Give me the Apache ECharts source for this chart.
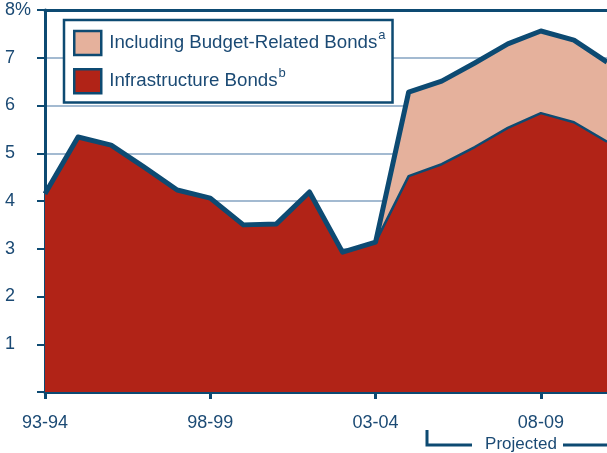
<!DOCTYPE html>
<html>
<head>
<meta charset="utf-8">
<script src="https://cdn.jsdelivr.net/npm/echarts@6/dist/echarts.min.js"></script>
<style>html,body{margin:0;padding:0;background:#fff}#c{width:607px;height:453px}</style>
</head>
<body>
<div id="c"></div>
<script>
var categories = ['93-94','94-95','95-96','96-97','97-98','98-99','99-00','00-01','01-02','02-03','03-04','04-05','05-06','06-07','07-08','08-09','09-10','10-11'];
var infrastructure = [4.15,5.34,5.17,4.71,4.23,4.06,3.50,3.52,4.19,2.93,3.14,4.52,4.77,5.13,5.53,5.84,5.65,5.24];
var budgetRelated = [null,null,null,null,null,null,null,null,null,null,3.14,6.28,6.51,6.89,7.29,7.56,7.37,6.91];
var yTicks = [0,1,2,3,4,5,6,7,8];

var NAVY = '#0d4a72';
var TEXT = '#1b4a74';
var GRID = '#a3bad1';
var RED = '#b12317';
var PINK = '#e5b19c';
var FONT = '"Liberation Sans", Arial, sans-serif';

var combined = budgetRelated.map(function (v, i) { return v == null ? infrastructure[i] : v; });

var chart = echarts.init(document.getElementById('c'), null, {renderer: 'canvas'});
chart.setOption({
  animation: false,
  textStyle: {fontFamily: FONT},
  grid: {left: 45, right: -2, top: 10, bottom: 61, containLabel: false},
  legend: {
    left: 64, top: 20,
    orient: 'vertical',
    data: ['Including Budget-Related Bonds', 'Infrastructure Bonds'],
    backgroundColor: '#fff',
    borderColor: NAVY, borderWidth: 2.5,
    padding: [9, 7, 8, 9],
    itemWidth: 27, itemHeight: 24, itemGap: 11,
    icon: 'rect',
    selectedMode: false,
    itemStyle: {borderColor: NAVY, borderWidth: 2.5},
    formatter: function (name) {
      return name + (name.indexOf('Including') === 0 ? '{sup|a}' : '{sup|b}');
    },
    textStyle: {
      color: TEXT, fontSize: 18.7, fontFamily: FONT, lineHeight: 24, padding: [0, 0, 0, 3],
      rich: {sup: {fontSize: 13, color: TEXT, fontFamily: FONT, lineHeight: 13, verticalAlign: 'bottom', padding: [0, 0, 13, 1]}}
    }
  },
  xAxis: [{
    type: 'category',
    data: categories,
    boundaryGap: false,
    axisLine: {lineStyle: {color: NAVY, width: 3}},
    axisTick: {show: true, interval: 4, length: 7, lineStyle: {color: NAVY, width: 3}},
    axisLabel: {interval: 4, color: TEXT, fontSize: 18, margin: 22, fontFamily: FONT},
    splitLine: {show: false}
  }, {
    type: 'category',
    data: categories,
    position: 'top',
    boundaryGap: false,
    axisLine: {lineStyle: {color: NAVY, width: 3}},
    axisTick: {show: false},
    axisLabel: {show: false}
  }],
  yAxis: {
    type: 'value',
    min: yTicks[0], max: yTicks[yTicks.length - 1], interval: 1,
    axisLine: {show: true, lineStyle: {color: NAVY, width: 3}},
    axisTick: {show: true, length: 8, lineStyle: {color: NAVY, width: 2}},
    axisLabel: {
      color: TEXT, fontSize: 18, align: 'left', margin: 40, fontFamily: FONT,
      formatter: function (v) { return v === 0 ? '' : (v === 8 ? v + '%' : String(v)); }
    },
    splitLine: {show: true, lineStyle: {color: GRID, width: 2}}
  },
  series: [{
    name: 'Including Budget-Related Bonds',
    type: 'line',
    data: combined,
    showSymbol: false,
    itemStyle: {color: PINK},
    lineStyle: {width: 0, color: NAVY},
    areaStyle: {color: PINK, opacity: 1},
    z: 2
  }, {
    name: 'Infrastructure Bonds',
    type: 'line',
    data: infrastructure,
    showSymbol: false,
    itemStyle: {color: RED},
    lineStyle: {width: 2.5, color: NAVY},
    areaStyle: {color: RED, opacity: 1},
    z: 3
  }, {
    name: 'outline',
    type: 'line',
    data: combined,
    showSymbol: false,
    lineStyle: {width: 5, color: NAVY, join: 'round'},
    z: 4
  }],
  graphic: [{
    type: 'polyline',
    shape: {points: [[427, 430], [427, 445], [472, 445]]},
    style: {stroke: NAVY, lineWidth: 3, fill: null}
  }, {
    type: 'text',
    x: 521, y: 444,
    style: {text: 'Projected', fill: TEXT, fontSize: 17, fontFamily: FONT, textAlign: 'center', textVerticalAlign: 'middle'}
  }, {
    type: 'line',
    shape: {x1: 563, y1: 445, x2: 607, y2: 445},
    style: {stroke: NAVY, lineWidth: 3}
  }]
});
</script>
</body>
</html>
